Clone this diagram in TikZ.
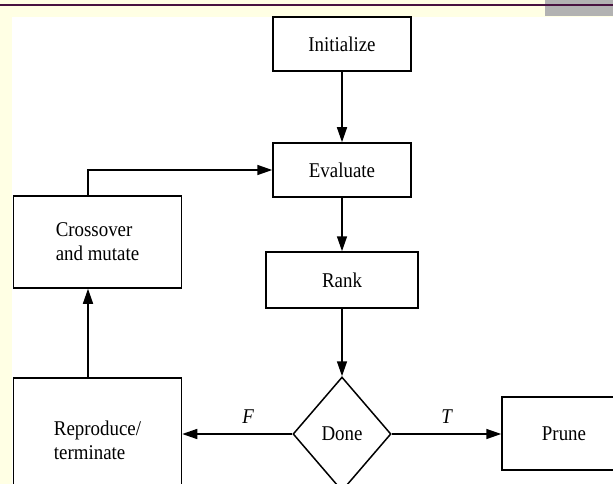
\documentclass[tikz,border=0pt]{standalone}
\usepackage{fontspec}
\setmainfont[FakeStretch=0.9]{Liberation Serif}
\usetikzlibrary{shapes.geometric,arrows.meta}

\definecolor{pagebg}{RGB}{255,255,228}
\definecolor{rulepurple}{RGB}{72,18,64}
\definecolor{tabgray}{RGB}{178,178,178}

\tikzset{
  x=1pt, y=1pt,
  labelfont/.style={font=\fontsize{21}{24}\selectfont},
  flowbox/.style={draw, line width=1.5pt, inner sep=0pt, labelfont},
  decision/.style={draw, diamond, line width=1.5pt, inner sep=0pt,
    minimum width=98pt, minimum height=114pt, labelfont},
  flow/.style={line width=1.5pt, -{Triangle[length=15pt,width=10pt]}},
  branch/.style={font=\fontsize{21}{24}\selectfont\itshape}
}

\begin{document}
\begin{tikzpicture}
  % page frame: pale margin, white sheet, header rule and grey tab
  \useasboundingbox (0,0) rectangle (613,-484);
  \clip (0,0) rectangle (613,-484);
  \fill[pagebg] (0,0) rectangle (613,-484);
  \fill[white] (12,-17) rectangle (613,-484);
  \fill[tabgray] (545,0) rectangle (613,-16);
  \draw[rulepurple, line width=2pt] (0,-5) -- (613,-5);

  % flowchart steps
  \node[flowbox, minimum width=138pt, minimum height=54pt] (init) at (342,-44) {Initialize};
  \node[flowbox, minimum width=138pt, minimum height=54pt] (eval) at (342,-170) {Evaluate};
  \node[flowbox, minimum width=152pt, minimum height=56pt] (rank) at (342,-280) {Rank};
  \node[decision] (done) at (342,-434) {Done};
  \node[flowbox, minimum width=168pt, minimum height=92pt, align=left] (cross) at (97.5,-242)
    {Crossover\\and mutate};
  \node[flowbox, minimum width=168pt, minimum height=124pt, align=left] (repro) at (97.5,-440)
    {Reproduce/\\terminate};
  \node[flowbox, minimum width=124pt, minimum height=73pt] (prune) at (564,-433.5) {Prune};

  % connectors
  \coordinate (loopx) at (88,0);
  \draw[flow] (init) -- (eval);
  \draw[flow] (eval) -- (rank);
  \draw[flow] (rank) -- (done);
  \draw[flow] (done.west) -- (done.west -| repro.east)
    node[branch, pos=0.4, above=6pt] {F};
  \draw[flow] (done.east) -- (done.east -| prune.west)
    node[branch, pos=0.5, above=6pt] {T};
  \draw[flow] (repro.north -| loopx) -- (cross.south -| loopx);
  \draw[flow] (cross.north -| loopx) |- (eval.west);
\end{tikzpicture}
\end{document}
